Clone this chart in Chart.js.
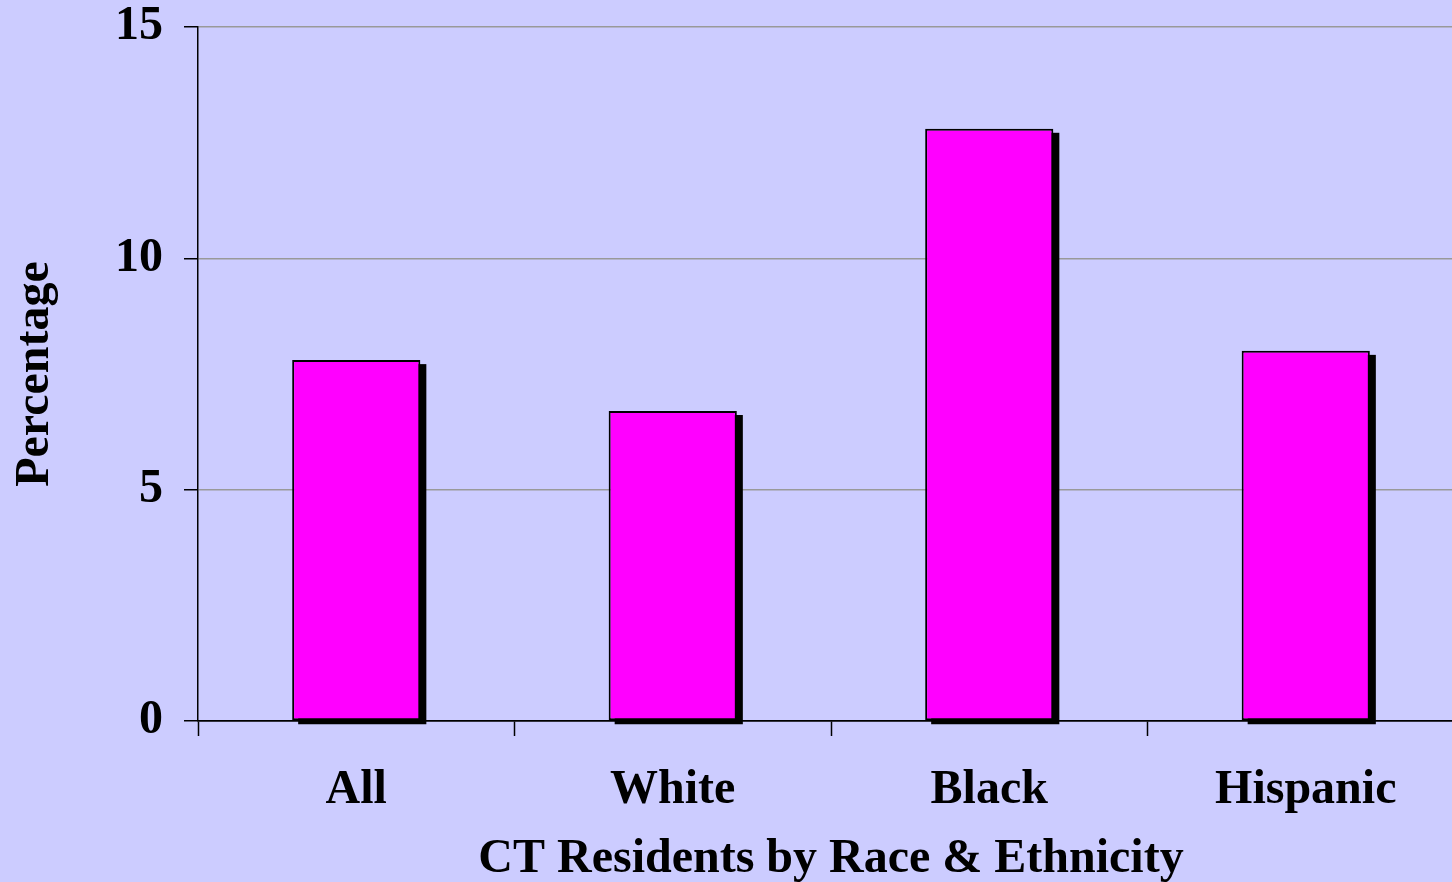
<!DOCTYPE html>
<html>
<head>
<meta charset="utf-8">
<script src="https://cdn.jsdelivr.net/npm/chart.js@4.4.1/dist/chart.umd.min.js"></script>
<style>
    html, body { margin: 0; padding: 0; background: #ccccff; overflow: hidden; }
    #wrap { width: 1464px; height: 882px; }
</style>
</head>
<body>
<div id="wrap"><canvas id="chart" width="1464" height="882"></canvas></div>
<script>
// Percentage by group
const categories = ['All', 'White', 'Black', 'Hispanic'];
const percentages = [7.8, 6.7, 12.8, 8.0];
const yTicks = [0, 5, 10, 15];

const font = { family: "'Liberation Serif', 'Times New Roman', serif", weight: 'bold', size: 48 };

// Hard black drop shadow behind each bar, placed from the bar elements
const barShadow = {
    id: 'barShadow',
    beforeDatasetsDraw(chart) {
        const ctx = chart.ctx;
        ctx.save();
        ctx.fillStyle = '#000000';
        chart.getDatasetMeta(0).data.forEach(bar => {
            const p = bar.getProps(['x', 'y', 'base', 'width'], true);
            ctx.fillRect(p.x - p.width / 2 + 6, p.y + 4, p.width, p.base - p.y);
        });
        ctx.restore();
    }
};

new Chart(document.getElementById('chart'), {
    type: 'bar',
    data: {
        labels: categories,
        datasets: [{
            data: percentages,
            backgroundColor: '#ff00ff',
            borderColor: '#000000',
            borderWidth: 2,
            borderSkipped: false,
            barPercentage: 0.405,
            categoryPercentage: 1
        }]
    },
    options: {
        responsive: false,
        animation: false,
        layout: { padding: { top: 27, right: 0, bottom: 0, left: 0 } },
        plugins: {
            legend: { display: false },
            tooltip: { enabled: false }
        },
        scales: {
            x: {
                grid: {
                    drawOnChartArea: false,
                    tickLength: 15,
                    tickColor: '#000000',
                    tickWidth: 1.5
                },
                border: { color: '#000000', width: 1.5 },
                ticks: {
                    color: '#000000',
                    font: { ...font, lineHeight: 1.2 },
                    padding: 26,
                    maxRotation: 0
                },
                title: {
                    display: true,
                    text: 'CT Residents by Race & Ethnicity',
                    color: '#000000',
                    font: { ...font, lineHeight: 1 },
                    padding: { top: 0, bottom: -2 }
                },
                afterFit(scale) { scale.height = 161; }
            },
            y: {
                min: 0,
                max: 15,
                afterBuildTicks(scale) { scale.ticks = yTicks.map(v => ({ value: v })); },
                grid: {
                    color: (c) => c.tick && c.tick.value === 0 ? '#000000' : '#999999',
                    lineWidth: 1.5,
                    tickLength: 14,
                    tickColor: '#000000'
                },
                border: { color: '#000000', width: 1.5 },
                ticks: {
                    color: '#000000',
                    font: { ...font, lineHeight: 1 },
                    padding: 21
                },
                title: {
                    display: true,
                    text: 'Percentage',
                    color: '#000000',
                    font: { ...font, lineHeight: 1.2 },
                    padding: { top: 7, bottom: 0 }
                },
                afterFit(scale) {
                    scale.width = 198;
                    scale.paddingTop = 0;
                    scale.paddingBottom = 0;
                }
            }
        }
    },
    plugins: [barShadow]
});
</script>
</body>
</html>
